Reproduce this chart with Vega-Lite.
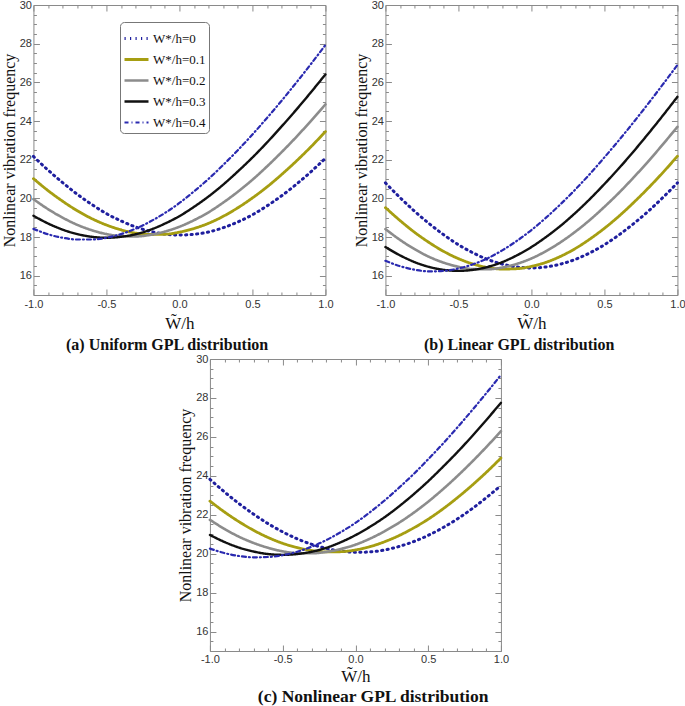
{
"$schema": "https://vega.github.io/schema/vega-lite/v6.json",
"padding": {"left": 0, "top": -2, "right": 0, "bottom": 0},
"background": "white",
"datasets": {
"a": [
{"x":-1,"s":"0","y":22.17},{"x":-0.9,"s":"0","y":21.46},{"x":-0.8,"s":"0","y":20.81},{"x":-0.7,"s":"0","y":20.21},{"x":-0.6,"s":"0","y":19.68},{"x":-0.5,"s":"0","y":19.21},{"x":-0.4,"s":"0","y":18.83},{"x":-0.3,"s":"0","y":18.52},{"x":-0.2,"s":"0","y":18.29},{"x":-0.1,"s":"0","y":18.15},{"x":0,"s":"0","y":18.10},{"x":0.1,"s":"0","y":18.14},{"x":0.2,"s":"0","y":18.26},{"x":0.3,"s":"0","y":18.48},{"x":0.4,"s":"0","y":18.78},{"x":0.5,"s":"0","y":19.15},{"x":0.6,"s":"0","y":19.61},{"x":0.7,"s":"0","y":20.13},{"x":0.8,"s":"0","y":20.72},{"x":0.9,"s":"0","y":21.37},{"x":1,"s":"0","y":22.07},
{"x":-1,"s":"0.1","y":21.02},{"x":-0.9,"s":"0.1","y":20.40},{"x":-0.8,"s":"0.1","y":19.85},{"x":-0.7,"s":"0.1","y":19.36},{"x":-0.6,"s":"0.1","y":18.95},{"x":-0.5,"s":"0.1","y":18.62},{"x":-0.4,"s":"0.1","y":18.37},{"x":-0.3,"s":"0.1","y":18.20},{"x":-0.2,"s":"0.1","y":18.13},{"x":-0.1,"s":"0.1","y":18.14},{"x":0,"s":"0.1","y":18.25},{"x":0.1,"s":"0.1","y":18.44},{"x":0.2,"s":"0.1","y":18.71},{"x":0.3,"s":"0.1","y":19.07},{"x":0.4,"s":"0.1","y":19.51},{"x":0.5,"s":"0.1","y":20.02},{"x":0.6,"s":"0.1","y":20.59},{"x":0.7,"s":"0.1","y":21.23},{"x":0.8,"s":"0.1","y":21.92},{"x":0.9,"s":"0.1","y":22.66},{"x":1,"s":"0.1","y":23.45},
{"x":-1,"s":"0.2","y":19.96},{"x":-0.9,"s":"0.2","y":19.44},{"x":-0.8,"s":"0.2","y":19.00},{"x":-0.7,"s":"0.2","y":18.63},{"x":-0.6,"s":"0.2","y":18.35},{"x":-0.5,"s":"0.2","y":18.15},{"x":-0.4,"s":"0.2","y":18.05},{"x":-0.3,"s":"0.2","y":18.03},{"x":-0.2,"s":"0.2","y":18.11},{"x":-0.1,"s":"0.2","y":18.28},{"x":0,"s":"0.2","y":18.53},{"x":0.1,"s":"0.2","y":18.87},{"x":0.2,"s":"0.2","y":19.28},{"x":0.3,"s":"0.2","y":19.78},{"x":0.4,"s":"0.2","y":20.34},{"x":0.5,"s":"0.2","y":20.96},{"x":0.6,"s":"0.2","y":21.65},{"x":0.7,"s":"0.2","y":22.39},{"x":0.8,"s":"0.2","y":23.17},{"x":0.9,"s":"0.2","y":24.00},{"x":1,"s":"0.2","y":24.86},
{"x":-1,"s":"0.3","y":19.10},{"x":-0.9,"s":"0.3","y":18.70},{"x":-0.8,"s":"0.3","y":18.38},{"x":-0.7,"s":"0.3","y":18.15},{"x":-0.6,"s":"0.3","y":18.01},{"x":-0.5,"s":"0.3","y":17.96},{"x":-0.4,"s":"0.3","y":18.01},{"x":-0.3,"s":"0.3","y":18.14},{"x":-0.2,"s":"0.3","y":18.37},{"x":-0.1,"s":"0.3","y":18.69},{"x":0,"s":"0.3","y":19.08},{"x":0.1,"s":"0.3","y":19.56},{"x":0.2,"s":"0.3","y":20.10},{"x":0.3,"s":"0.3","y":20.71},{"x":0.4,"s":"0.3","y":21.39},{"x":0.5,"s":"0.3","y":22.11},{"x":0.6,"s":"0.3","y":22.89},{"x":0.7,"s":"0.3","y":23.72},{"x":0.8,"s":"0.3","y":24.58},{"x":0.9,"s":"0.3","y":25.48},{"x":1,"s":"0.3","y":26.41},
{"x":-1,"s":"0.4","y":18.42},{"x":-0.9,"s":"0.4","y":18.14},{"x":-0.8,"s":"0.4","y":17.96},{"x":-0.7,"s":"0.4","y":17.87},{"x":-0.6,"s":"0.4","y":17.87},{"x":-0.5,"s":"0.4","y":17.96},{"x":-0.4,"s":"0.4","y":18.15},{"x":-0.3,"s":"0.4","y":18.43},{"x":-0.2,"s":"0.4","y":18.80},{"x":-0.1,"s":"0.4","y":19.24},{"x":0,"s":"0.4","y":19.76},{"x":0.1,"s":"0.4","y":20.36},{"x":0.2,"s":"0.4","y":21.01},{"x":0.3,"s":"0.4","y":21.73},{"x":0.4,"s":"0.4","y":22.49},{"x":0.5,"s":"0.4","y":23.30},{"x":0.6,"s":"0.4","y":24.16},{"x":0.7,"s":"0.4","y":25.05},{"x":0.8,"s":"0.4","y":25.98},{"x":0.9,"s":"0.4","y":26.94},{"x":1,"s":"0.4","y":27.93}
],
"b": [
{"x":-1,"s":"0","y":20.80},{"x":-0.9,"s":"0","y":20.04},{"x":-0.8,"s":"0","y":19.33},{"x":-0.7,"s":"0","y":18.69},{"x":-0.6,"s":"0","y":18.11},{"x":-0.5,"s":"0","y":17.60},{"x":-0.4,"s":"0","y":17.18},{"x":-0.3,"s":"0","y":16.84},{"x":-0.2,"s":"0","y":16.60},{"x":-0.1,"s":"0","y":16.45},{"x":0,"s":"0","y":16.40},{"x":0.1,"s":"0","y":16.45},{"x":0.2,"s":"0","y":16.60},{"x":0.3,"s":"0","y":16.84},{"x":0.4,"s":"0","y":17.18},{"x":0.5,"s":"0","y":17.60},{"x":0.6,"s":"0","y":18.11},{"x":0.7,"s":"0","y":18.69},{"x":0.8,"s":"0","y":19.33},{"x":0.9,"s":"0","y":20.04},{"x":1,"s":"0","y":20.80},
{"x":-1,"s":"0.1","y":19.52},{"x":-0.9,"s":"0.1","y":18.85},{"x":-0.8,"s":"0.1","y":18.24},{"x":-0.7,"s":"0.1","y":17.71},{"x":-0.6,"s":"0.1","y":17.25},{"x":-0.5,"s":"0.1","y":16.88},{"x":-0.4,"s":"0.1","y":16.60},{"x":-0.3,"s":"0.1","y":16.42},{"x":-0.2,"s":"0.1","y":16.34},{"x":-0.1,"s":"0.1","y":16.36},{"x":0,"s":"0.1","y":16.48},{"x":0.1,"s":"0.1","y":16.69},{"x":0.2,"s":"0.1","y":17.00},{"x":0.3,"s":"0.1","y":17.40},{"x":0.4,"s":"0.1","y":17.89},{"x":0.5,"s":"0.1","y":18.45},{"x":0.6,"s":"0.1","y":19.08},{"x":0.7,"s":"0.1","y":19.78},{"x":0.8,"s":"0.1","y":20.53},{"x":0.9,"s":"0.1","y":21.33},{"x":1,"s":"0.1","y":22.18},
{"x":-1,"s":"0.2","y":18.41},{"x":-0.9,"s":"0.2","y":17.85},{"x":-0.8,"s":"0.2","y":17.37},{"x":-0.7,"s":"0.2","y":16.97},{"x":-0.6,"s":"0.2","y":16.67},{"x":-0.5,"s":"0.2","y":16.46},{"x":-0.4,"s":"0.2","y":16.34},{"x":-0.3,"s":"0.2","y":16.33},{"x":-0.2,"s":"0.2","y":16.42},{"x":-0.1,"s":"0.2","y":16.61},{"x":0,"s":"0.2","y":16.89},{"x":0.1,"s":"0.2","y":17.27},{"x":0.2,"s":"0.2","y":17.73},{"x":0.3,"s":"0.2","y":18.27},{"x":0.4,"s":"0.2","y":18.88},{"x":0.5,"s":"0.2","y":19.56},{"x":0.6,"s":"0.2","y":20.29},{"x":0.7,"s":"0.2","y":21.08},{"x":0.8,"s":"0.2","y":21.91},{"x":0.9,"s":"0.2","y":22.79},{"x":1,"s":"0.2","y":23.70},
{"x":-1,"s":"0.3","y":17.48},{"x":-0.9,"s":"0.3","y":17.05},{"x":-0.8,"s":"0.3","y":16.70},{"x":-0.7,"s":"0.3","y":16.45},{"x":-0.6,"s":"0.3","y":16.30},{"x":-0.5,"s":"0.3","y":16.25},{"x":-0.4,"s":"0.3","y":16.30},{"x":-0.3,"s":"0.3","y":16.45},{"x":-0.2,"s":"0.3","y":16.70},{"x":-0.1,"s":"0.3","y":17.05},{"x":0,"s":"0.3","y":17.48},{"x":0.1,"s":"0.3","y":18.00},{"x":0.2,"s":"0.3","y":18.58},{"x":0.3,"s":"0.3","y":19.24},{"x":0.4,"s":"0.3","y":19.96},{"x":0.5,"s":"0.3","y":20.74},{"x":0.6,"s":"0.3","y":21.56},{"x":0.7,"s":"0.3","y":22.43},{"x":0.8,"s":"0.3","y":23.34},{"x":0.9,"s":"0.3","y":24.28},{"x":1,"s":"0.3","y":25.25},
{"x":-1,"s":"0.4","y":16.77},{"x":-0.9,"s":"0.4","y":16.49},{"x":-0.8,"s":"0.4","y":16.31},{"x":-0.7,"s":"0.4","y":16.22},{"x":-0.6,"s":"0.4","y":16.25},{"x":-0.5,"s":"0.4","y":16.37},{"x":-0.4,"s":"0.4","y":16.59},{"x":-0.3,"s":"0.4","y":16.90},{"x":-0.2,"s":"0.4","y":17.31},{"x":-0.1,"s":"0.4","y":17.80},{"x":0,"s":"0.4","y":18.36},{"x":0.1,"s":"0.4","y":19.00},{"x":0.2,"s":"0.4","y":19.70},{"x":0.3,"s":"0.4","y":20.45},{"x":0.4,"s":"0.4","y":21.26},{"x":0.5,"s":"0.4","y":22.12},{"x":0.6,"s":"0.4","y":23.01},{"x":0.7,"s":"0.4","y":23.94},{"x":0.8,"s":"0.4","y":24.90},{"x":0.9,"s":"0.4","y":25.89},{"x":1,"s":"0.4","y":26.90}
],
"c": [
{"x":-1,"s":"0","y":23.82},{"x":-0.9,"s":"0","y":23.17},{"x":-0.8,"s":"0","y":22.57},{"x":-0.7,"s":"0","y":22.03},{"x":-0.6,"s":"0","y":21.54},{"x":-0.5,"s":"0","y":21.12},{"x":-0.4,"s":"0","y":20.76},{"x":-0.3,"s":"0","y":20.48},{"x":-0.2,"s":"0","y":20.27},{"x":-0.1,"s":"0","y":20.13},{"x":0,"s":"0","y":20.07},{"x":0.1,"s":"0","y":20.09},{"x":0.2,"s":"0","y":20.19},{"x":0.3,"s":"0","y":20.37},{"x":0.4,"s":"0","y":20.62},{"x":0.5,"s":"0","y":20.94},{"x":0.6,"s":"0","y":21.33},{"x":0.7,"s":"0","y":21.78},{"x":0.8,"s":"0","y":22.30},{"x":0.9,"s":"0","y":22.88},{"x":1,"s":"0","y":23.50},
{"x":-1,"s":"0.1","y":22.70},{"x":-0.9,"s":"0.1","y":22.14},{"x":-0.8,"s":"0.1","y":21.64},{"x":-0.7,"s":"0.1","y":21.20},{"x":-0.6,"s":"0.1","y":20.83},{"x":-0.5,"s":"0.1","y":20.53},{"x":-0.4,"s":"0.1","y":20.31},{"x":-0.3,"s":"0.1","y":20.16},{"x":-0.2,"s":"0.1","y":20.09},{"x":-0.1,"s":"0.1","y":20.10},{"x":0,"s":"0.1","y":20.19},{"x":0.1,"s":"0.1","y":20.36},{"x":0.2,"s":"0.1","y":20.61},{"x":0.3,"s":"0.1","y":20.93},{"x":0.4,"s":"0.1","y":21.32},{"x":0.5,"s":"0.1","y":21.77},{"x":0.6,"s":"0.1","y":22.29},{"x":0.7,"s":"0.1","y":22.87},{"x":0.8,"s":"0.1","y":23.50},{"x":0.9,"s":"0.1","y":24.18},{"x":1,"s":"0.1","y":24.91},
{"x":-1,"s":"0.2","y":21.74},{"x":-0.9,"s":"0.2","y":21.27},{"x":-0.8,"s":"0.2","y":20.87},{"x":-0.7,"s":"0.2","y":20.55},{"x":-0.6,"s":"0.2","y":20.30},{"x":-0.5,"s":"0.2","y":20.12},{"x":-0.4,"s":"0.2","y":20.03},{"x":-0.3,"s":"0.2","y":20.02},{"x":-0.2,"s":"0.2","y":20.09},{"x":-0.1,"s":"0.2","y":20.24},{"x":0,"s":"0.2","y":20.46},{"x":0.1,"s":"0.2","y":20.77},{"x":0.2,"s":"0.2","y":21.15},{"x":0.3,"s":"0.2","y":21.59},{"x":0.4,"s":"0.2","y":22.10},{"x":0.5,"s":"0.2","y":22.67},{"x":0.6,"s":"0.2","y":23.30},{"x":0.7,"s":"0.2","y":23.98},{"x":0.8,"s":"0.2","y":24.71},{"x":0.9,"s":"0.2","y":25.48},{"x":1,"s":"0.2","y":26.29},
{"x":-1,"s":"0.3","y":20.96},{"x":-0.9,"s":"0.3","y":20.60},{"x":-0.8,"s":"0.3","y":20.31},{"x":-0.7,"s":"0.3","y":20.11},{"x":-0.6,"s":"0.3","y":19.98},{"x":-0.5,"s":"0.3","y":19.94},{"x":-0.4,"s":"0.3","y":19.98},{"x":-0.3,"s":"0.3","y":20.10},{"x":-0.2,"s":"0.3","y":20.30},{"x":-0.1,"s":"0.3","y":20.59},{"x":0,"s":"0.3","y":20.95},{"x":0.1,"s":"0.3","y":21.38},{"x":0.2,"s":"0.3","y":21.87},{"x":0.3,"s":"0.3","y":22.43},{"x":0.4,"s":"0.3","y":23.05},{"x":0.5,"s":"0.3","y":23.72},{"x":0.6,"s":"0.3","y":24.45},{"x":0.7,"s":"0.3","y":25.21},{"x":0.8,"s":"0.3","y":26.02},{"x":0.9,"s":"0.3","y":26.87},{"x":1,"s":"0.3","y":27.75},
{"x":-1,"s":"0.4","y":20.26},{"x":-0.9,"s":"0.4","y":20.03},{"x":-0.8,"s":"0.4","y":19.88},{"x":-0.7,"s":"0.4","y":19.81},{"x":-0.6,"s":"0.4","y":19.83},{"x":-0.5,"s":"0.4","y":19.92},{"x":-0.4,"s":"0.4","y":20.10},{"x":-0.3,"s":"0.4","y":20.36},{"x":-0.2,"s":"0.4","y":20.70},{"x":-0.1,"s":"0.4","y":21.11},{"x":0,"s":"0.4","y":21.58},{"x":0.1,"s":"0.4","y":22.13},{"x":0.2,"s":"0.4","y":22.73},{"x":0.3,"s":"0.4","y":23.39},{"x":0.4,"s":"0.4","y":24.09},{"x":0.5,"s":"0.4","y":24.85},{"x":0.6,"s":"0.4","y":25.64},{"x":0.7,"s":"0.4","y":26.48},{"x":0.8,"s":"0.4","y":27.35},{"x":0.9,"s":"0.4","y":28.25},{"x":1,"s":"0.4","y":29.18}
]
},
"vconcat": [
{
"hconcat": [
{
"width": 292, "height": 290,
"data": {"name": "a"},
"title": {"text": "(a)  Uniform GPL distribution", "orient": "bottom", "frame": "bounds", "anchor": "middle", "offset": 6},
"layer": [
{"mark": {"type": "line", "interpolate": "monotone", "strokeCap": "round"},
"encoding": {
"x": {"field": "x", "type": "quantitative", "scale": {"domain": [-1, 1], "nice": false},
"axis": {"orient": "bottom", "title": "W\u0303/h", "titleFontSize": 17, "titlePadding": 3, "labelPadding": 9, "values": [-1,-0.9,-0.8,-0.7,-0.6,-0.5,-0.4,-0.3,-0.2,-0.1,0,0.1,0.2,0.3,0.4,0.5,0.6,0.7,0.8,0.9,1], "tickSize": {"condition": {"test": "abs(round(datum.value*10))%5==0", "value": -6}, "value": -3}, "labelExpr": "abs(round(datum.value*10))%5==0 ? replace(format(datum.value, '.1f'), '\u2212', '-') : ''"}},
"y": {"field": "y", "type": "quantitative", "scale": {"domain": [15, 30], "nice": false, "zero": false},
"axis": {"orient": "left", "title": "Nonlinear vibration frequency", "titleFontSize": 16, "titlePadding": 2, "labelPadding": 8, "values": [15,15.5,16,16.5,17,17.5,18,18.5,19,19.5,20,20.5,21,21.5,22,22.5,23,23.5,24,24.5,25,25.5,26,26.5,27,27.5,28,28.5,29,29.5,30], "tickSize": {"condition": {"test": "datum.value%2==0", "value": -6}, "value": -3}, "labelExpr": "datum.value%2==0 ? format(datum.value, 'd') : ''"}},
"color": {"field": "s", "type": "ordinal", "scale": {"domain": ["0","0.1","0.2","0.3","0.4"], "range": ["#1f1f9e","#a69e12","#8c8c8c","#111111","#2a2ab0"]}, "legend": {"orient": "none", "legendX": 87, "legendY": 17, "title": null, "labelExpr": "'W*/h=' + datum.label"}},
"strokeDash": {"field": "s", "type": "ordinal", "scale": {"domain": ["0","0.1","0.2","0.3","0.4"], "range": [[1.2,4.3],[1,0],[1,0],[1,0],[4,3,1,3]]}, "legend": {"orient": "none", "legendX": 87, "legendY": 17, "title": null, "labelExpr": "'W*/h=' + datum.label"}},
"strokeWidth": {"field": "s", "type": "ordinal", "scale": {"domain": ["0","0.1","0.2","0.3","0.4"], "range": [3,2.2,2.2,2.4,1.8]}, "legend": {"orient": "none", "legendX": 87, "legendY": 17, "title": null, "labelExpr": "'W*/h=' + datum.label"}}
}},
{"mark": {"type": "line", "opacity": 0},
"encoding": {
"x": {"field": "x", "type": "quantitative", "axis": {"orient": "top", "title": null, "labels": false, "values": [-1,-0.9,-0.8,-0.7,-0.6,-0.5,-0.4,-0.3,-0.2,-0.1,0,0.1,0.2,0.3,0.4,0.5,0.6,0.7,0.8,0.9,1], "tickSize": {"condition": {"test": "abs(round(datum.value*10))%5==0", "value": -6}, "value": -3}}},
"y": {"field": "y", "type": "quantitative", "axis": {"orient": "right", "title": null, "labels": false, "values": [15,15.5,16,16.5,17,17.5,18,18.5,19,19.5,20,20.5,21,21.5,22,22.5,23,23.5,24,24.5,25,25.5,26,26.5,27,27.5,28,28.5,29,29.5,30], "tickSize": {"condition": {"test": "datum.value%2==0", "value": -6}, "value": -3}}},
"detail": {"field": "s"}
}}
],
"resolve": {"axis": {"x": "independent", "y": "independent"}}
},
{
"width": 292, "height": 290,
"data": {"name": "b"},
"title": {"text": "(b) Linear GPL distribution", "orient": "bottom", "frame": "bounds", "anchor": "middle", "offset": 6},
"layer": [
{"mark": {"type": "line", "interpolate": "monotone", "strokeCap": "round"},
"encoding": {
"x": {"field": "x", "type": "quantitative", "scale": {"domain": [-1, 1], "nice": false},
"axis": {"orient": "bottom", "title": "W\u0303/h", "titleFontSize": 17, "titlePadding": 3, "labelPadding": 9, "values": [-1,-0.9,-0.8,-0.7,-0.6,-0.5,-0.4,-0.3,-0.2,-0.1,0,0.1,0.2,0.3,0.4,0.5,0.6,0.7,0.8,0.9,1], "tickSize": {"condition": {"test": "abs(round(datum.value*10))%5==0", "value": -6}, "value": -3}, "labelExpr": "abs(round(datum.value*10))%5==0 ? replace(format(datum.value, '.1f'), '\u2212', '-') : ''"}},
"y": {"field": "y", "type": "quantitative", "scale": {"domain": [15, 30], "nice": false, "zero": false},
"axis": {"orient": "left", "title": "Nonlinear vibration frequency", "titleFontSize": 16, "titlePadding": 2, "labelPadding": 8, "values": [15,15.5,16,16.5,17,17.5,18,18.5,19,19.5,20,20.5,21,21.5,22,22.5,23,23.5,24,24.5,25,25.5,26,26.5,27,27.5,28,28.5,29,29.5,30], "tickSize": {"condition": {"test": "datum.value%2==0", "value": -6}, "value": -3}, "labelExpr": "datum.value%2==0 ? format(datum.value, 'd') : ''"}},
"color": {"field": "s", "type": "ordinal", "scale": {"domain": ["0","0.1","0.2","0.3","0.4"], "range": ["#1f1f9e","#a69e12","#8c8c8c","#111111","#2a2ab0"]}, "legend": {"orient": "none", "legendX": 87, "legendY": 17, "title": null, "labelExpr": "'W*/h=' + datum.label"}},
"strokeDash": {"field": "s", "type": "ordinal", "scale": {"domain": ["0","0.1","0.2","0.3","0.4"], "range": [[1.2,4.3],[1,0],[1,0],[1,0],[4,3,1,3]]}, "legend": {"orient": "none", "legendX": 87, "legendY": 17, "title": null, "labelExpr": "'W*/h=' + datum.label"}},
"strokeWidth": {"field": "s", "type": "ordinal", "scale": {"domain": ["0","0.1","0.2","0.3","0.4"], "range": [3,2.2,2.2,2.4,1.8]}, "legend": {"orient": "none", "legendX": 87, "legendY": 17, "title": null, "labelExpr": "'W*/h=' + datum.label"}}
}},
{"mark": {"type": "line", "opacity": 0},
"encoding": {
"x": {"field": "x", "type": "quantitative", "axis": {"orient": "top", "title": null, "labels": false, "values": [-1,-0.9,-0.8,-0.7,-0.6,-0.5,-0.4,-0.3,-0.2,-0.1,0,0.1,0.2,0.3,0.4,0.5,0.6,0.7,0.8,0.9,1], "tickSize": {"condition": {"test": "abs(round(datum.value*10))%5==0", "value": -6}, "value": -3}}},
"y": {"field": "y", "type": "quantitative", "axis": {"orient": "right", "title": null, "labels": false, "values": [15,15.5,16,16.5,17,17.5,18,18.5,19,19.5,20,20.5,21,21.5,22,22.5,23,23.5,24,24.5,25,25.5,26,26.5,27,27.5,28,28.5,29,29.5,30], "tickSize": {"condition": {"test": "datum.value%2==0", "value": -6}, "value": -3}}},
"detail": {"field": "s"}
}}
],
"resolve": {"axis": {"x": "independent", "y": "independent"}}
}
],
"spacing": 18
},
{
"width": 291, "height": 292,
"data": {"name": "c"},
"title": {"text": "(c) Nonlinear GPL distribution", "orient": "bottom", "frame": "bounds", "anchor": "middle", "offset": 4, "fontSize": 17.5, "dx": 30},
"layer": [
{"mark": {"type": "line", "interpolate": "monotone", "strokeCap": "round"},
"encoding": {
"x": {"field": "x", "type": "quantitative", "scale": {"domain": [-1, 1], "nice": false},
"axis": {"orient": "bottom", "title": "W\u0303/h", "titleFontSize": 17, "titlePadding": 1, "labelPadding": 8, "values": [-1,-0.9,-0.8,-0.7,-0.6,-0.5,-0.4,-0.3,-0.2,-0.1,0,0.1,0.2,0.3,0.4,0.5,0.6,0.7,0.8,0.9,1], "tickSize": {"condition": {"test": "abs(round(datum.value*10))%5==0", "value": -6}, "value": -3}, "labelExpr": "abs(round(datum.value*10))%5==0 ? replace(format(datum.value, '.1f'), '\u2212', '-') : ''"}},
"y": {"field": "y", "type": "quantitative", "scale": {"domain": [15, 30], "nice": false, "zero": false},
"axis": {"orient": "left", "title": "Nonlinear vibration frequency", "titleFontSize": 16, "titlePadding": 2, "labelPadding": 8, "values": [15,15.5,16,16.5,17,17.5,18,18.5,19,19.5,20,20.5,21,21.5,22,22.5,23,23.5,24,24.5,25,25.5,26,26.5,27,27.5,28,28.5,29,29.5,30], "tickSize": {"condition": {"test": "datum.value%2==0", "value": -6}, "value": -3}, "labelExpr": "datum.value%2==0 ? format(datum.value, 'd') : ''"}},
"color": {"field": "s", "type": "ordinal", "scale": {"domain": ["0","0.1","0.2","0.3","0.4"], "range": ["#1f1f9e","#a69e12","#8c8c8c","#111111","#2a2ab0"]}, "legend": {"orient": "none", "legendX": 86, "legendY": 17, "title": null, "labelExpr": "'W*/h=' + datum.label"}},
"strokeDash": {"field": "s", "type": "ordinal", "scale": {"domain": ["0","0.1","0.2","0.3","0.4"], "range": [[1.2,4.3],[1,0],[1,0],[1,0],[4,3,1,3]]}, "legend": {"orient": "none", "legendX": 86, "legendY": 17, "title": null, "labelExpr": "'W*/h=' + datum.label"}},
"strokeWidth": {"field": "s", "type": "ordinal", "scale": {"domain": ["0","0.1","0.2","0.3","0.4"], "range": [3,2.2,2.2,2.4,1.8]}, "legend": {"orient": "none", "legendX": 86, "legendY": 17, "title": null, "labelExpr": "'W*/h=' + datum.label"}}
}},
{"mark": {"type": "line", "opacity": 0},
"encoding": {
"x": {"field": "x", "type": "quantitative", "axis": {"orient": "top", "title": null, "labels": false, "values": [-1,-0.9,-0.8,-0.7,-0.6,-0.5,-0.4,-0.3,-0.2,-0.1,0,0.1,0.2,0.3,0.4,0.5,0.6,0.7,0.8,0.9,1], "tickSize": {"condition": {"test": "abs(round(datum.value*10))%5==0", "value": -6}, "value": -3}}},
"y": {"field": "y", "type": "quantitative", "axis": {"orient": "right", "title": null, "labels": false, "values": [15,15.5,16,16.5,17,17.5,18,18.5,19,19.5,20,20.5,21,21.5,22,22.5,23,23.5,24,24.5,25,25.5,26,26.5,27,27.5,28,28.5,29,29.5,30], "tickSize": {"condition": {"test": "datum.value%2==0", "value": -6}, "value": -3}}},
"detail": {"field": "s"}
}}
],
"resolve": {"axis": {"x": "independent", "y": "independent"}}
}
],
"spacing": -2,
"center": true,
"config": {
"view": {"stroke": "#8a8a8a", "strokeWidth": 1},
"axis": {"domain": false, "grid": false, "labelFont": "Liberation Sans", "labelFontSize": 11, "labelColor": "#333333", "tickColor": "#8a8a8a", "titleFont": "Liberation Serif", "titleFontWeight": "normal", "titleColor": "#111111", "labelFlush": false, "labelOverlap": false, "labelBound": false},
"title": {"font": "Liberation Serif", "fontWeight": "bold", "fontSize": 16, "color": "#111111"},
"legend": {"labelFont": "Liberation Serif", "labelFontSize": 13, "labelColor": "#111111", "strokeColor": "#777777", "fillColor": "white", "cornerRadius": 4, "padding": 3, "rowPadding": -4, "symbolType": "stroke", "symbolSize": 576, "labelOffset": 3}
}
}
